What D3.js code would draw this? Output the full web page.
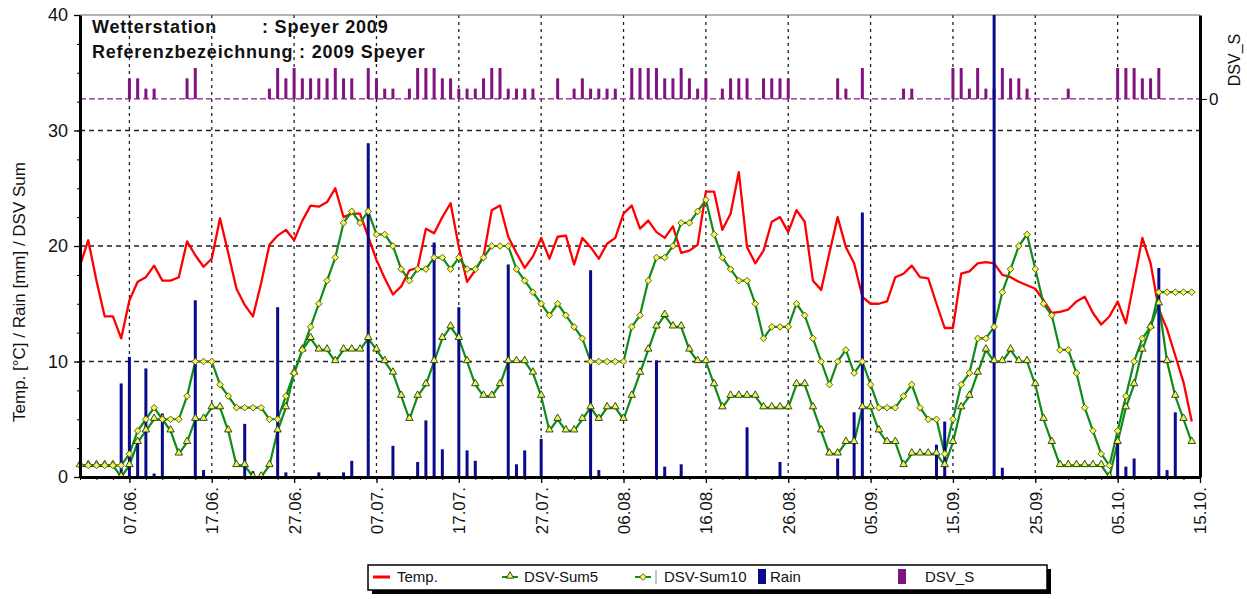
<!DOCTYPE html>
<html>
<head>
<meta charset="utf-8">
<script src="https://cdn.jsdelivr.net/npm/d3@7"></script>
<style>
  body { margin: 0; background: #fff; }
  svg { display: block; font-family: "Liberation Sans", Arial, sans-serif; }
</style>
</head>
<body>
<svg id="chart" width="1247" height="599"></svg>
<script>
'use strict';

// daily values, 01.06.2009 .. 14.10.2009
const temp = [
  18.3, 20.5, 17.0, 13.9, 13.9, 12.0, 15.3, 16.9, 17.3, 18.3,
  17.0, 17.0, 17.3, 20.4, 19.2, 18.2, 18.9, 22.4, 19.4, 16.3,
  14.9, 13.9, 16.8, 20.1, 20.9, 21.4, 20.5, 22.2, 23.5, 23.4,
  23.8, 25.0, 22.5, 22.8, 22.8, 20.8, 18.8, 17.2, 15.8, 16.5,
  17.9, 18.1, 21.5, 21.1, 22.5, 23.7, 19.9, 16.9, 17.9, 19.1,
  23.1, 23.5, 20.8, 19.4, 18.1, 19.1, 20.7, 18.9, 20.8, 20.9,
  18.4, 20.7, 19.9, 18.9, 20.2, 20.7, 22.8, 23.5, 21.5, 22.2,
  21.2, 20.7, 21.7, 19.4, 19.6, 20.1, 24.7, 24.7, 21.4, 22.8,
  26.4, 19.9, 18.5, 19.6, 22.1, 22.5, 21.2, 23.1, 22.1, 17.0,
  16.2, 19.4, 22.5, 19.9, 18.5, 15.6, 15.0, 15.0, 15.2, 17.3,
  17.6, 18.3, 17.3, 17.2, 15.0, 12.9, 12.9, 17.6, 17.8, 18.5,
  18.6, 18.5, 17.5, 17.3, 16.9, 16.6, 16.3, 15.3, 14.2, 14.3,
  14.5, 15.2, 15.6, 14.2, 13.2, 13.9, 15.2, 13.3, 17.0, 20.7,
  18.5, 14.5, 12.8, 10.5, 8.2, 4.8
];

const sum5 = [
  1, 1, 1, 1, 1, 0, 1, 3, 4, 5,
  5, 4, 2, 3, 5, 5, 6, 6, 4, 1,
  1, 0, 0, 1, 4, 6, 9, 11, 12, 11,
  11, 10, 11, 11, 11, 12, 11, 10, 9, 7,
  5, 7, 8, 10, 12, 13, 12, 10, 8, 7,
  7, 8, 10, 10, 10, 9, 7, 4, 5, 4,
  4, 5, 6, 5, 6, 6, 5, 7, 9, 11,
  13, 14, 13, 13, 11, 10, 10, 8, 6, 7,
  7, 7, 7, 6, 6, 6, 6, 8, 8, 6,
  4, 2, 2, 3, 3, 6, 6, 4, 3, 3,
  1, 2, 2, 2, 2, 1, 3, 6, 7, 9,
  11, 10, 10, 11, 10, 10, 8, 5, 3, 1,
  1, 1, 1, 1, 1, 0, 3, 6, 8, 11,
  13, 15, 10, 7, 5, 3
];

const sum10 = [
  1, 1, 1, 1, 1, 1, 2, 4, 5, 6,
  5, 5, 5, 7, 10, 10, 10, 8, 7, 6,
  6, 6, 6, 5, 5, 7, 9, 11, 13, 15,
  17, 19, 22, 23, 22, 23, 21, 21, 20, 18,
  17, 18, 18, 19, 19, 18, 19, 18, 18, 19,
  20, 20, 20, 18, 17, 16, 15, 14, 15, 14,
  13, 12, 10, 10, 10, 10, 10, 13, 14, 17,
  19, 19, 20, 22, 22, 23, 24, 21, 19, 18,
  17, 17, 15, 12, 13, 13, 13, 15, 14, 12,
  10, 8, 10, 11, 9, 10, 8, 6, 6, 6,
  7, 8, 6, 5, 5, 2, 5, 8, 9, 12,
  12, 13, 16, 18, 20, 21, 18, 15, 14, 11,
  11, 9, 6, 4, 2, 1, 4, 7, 10, 12,
  13, 16, 16, 16, 16, 16
];

// [day index, mm]
const rain = [
  [5, 8.1], [6, 10.4], [7, 3.2], [8, 9.4], [9, 0.3], [10, 5.5], [14, 15.3], [15, 0.6],
  [20, 4.6], [21, 0.5], [24, 14.7], [25, 0.4], [29, 0.4], [32, 0.4], [33, 1.4], [35, 28.9],
  [38, 2.7], [41, 1.3], [42, 4.9], [43, 20.3], [44, 2.4], [46, 14.7], [47, 2.3], [48, 1.4],
  [52, 18.4], [53, 1.1], [54, 2.3], [56, 3.3], [62, 17.9], [63, 0.6], [70, 10.1], [71, 0.9],
  [73, 1.1], [81, 4.3], [85, 1.3], [92, 1.6], [94, 5.6], [95, 22.9], [104, 2.8], [105, 4.8],
  [111, 40], [112, 0.8], [126, 3.3], [127, 0.9], [128, 1.6], [131, 18.1], [132, 0.6], [133, 5.6]
];

// [day index, DSV value]
const dsvS = [
  [6, 2], [7, 2], [8, 1], [9, 1], [13, 2], [14, 3], [23, 1], [24, 3], [25, 2], [26, 3],
  [27, 2], [28, 2], [29, 2], [30, 2], [31, 3], [32, 2], [33, 2], [35, 3], [36, 2], [37, 1],
  [38, 1], [40, 1], [41, 3], [42, 3], [43, 3], [44, 2], [45, 2], [46, 1], [47, 1], [48, 1],
  [49, 2], [50, 3], [51, 3], [52, 1], [53, 1], [54, 1], [55, 1], [58, 2], [60, 1], [61, 2],
  [62, 1], [63, 1], [64, 1], [65, 1], [67, 3], [68, 3], [69, 3], [70, 3], [71, 2], [72, 2],
  [73, 3], [74, 2], [75, 1], [76, 2], [78, 1], [79, 2], [80, 2], [81, 2], [83, 2], [84, 2],
  [85, 2], [86, 2], [92, 2], [93, 1], [95, 3], [100, 1], [101, 1], [106, 3], [107, 3], [108, 1],
  [109, 3], [110, 1], [111, 1], [112, 3], [113, 2], [114, 2], [115, 1], [120, 1], [126, 3], [127, 3],
  [128, 3], [129, 2], [130, 2], [131, 3]
];

const yTicks = [0, 10, 20, 30, 40];
const legendItems = ['Temp.', 'DSV-Sum5', 'DSV-Sum10', 'Rain', 'DSV_S'];

const margin = { top: 15, right: 47, bottom: 122, left: 80 };
const width = 1247, height = 599;
const plotW = width - margin.left - margin.right;
const plotH = height - margin.top - margin.bottom;

const start = new Date(Date.UTC(2009, 5, 1));
const end = new Date(Date.UTC(2009, 9, 15));
const days = d3.utcDay.range(start, d3.utcDay.offset(start, temp.length));
const dayAt = i => d3.utcDay.offset(start, i);

const x = d3.scaleUtc().domain([start, end]).range([0, plotW]);
const y = d3.scaleLinear().domain([0, 40]).range([plotH, 0]);
const yS = d3.scaleLinear().domain([-36.7, 8.15]).range([plotH, 0]);

const svg = d3.select('#chart');
const g = svg.append('g').attr('transform', `translate(${margin.left},${margin.top})`);

const majorDates = d3.utcDay.range(dayAt(6), d3.utcDay.offset(end, 1), 10);
const minorDates = d3.utcDay.range(start, d3.utcDay.offset(end, 1), 2);

// grid
g.append('g')
  .selectAll('line')
  .data([10, 20, 30])
  .join('line')
    .attr('x1', 0).attr('x2', plotW)
    .attr('y1', d => y(d)).attr('y2', d => y(d))
    .attr('stroke', '#222').attr('stroke-width', 1.3)
    .attr('stroke-dasharray', '5,4');

g.append('g')
  .selectAll('line')
  .data(majorDates.filter(d => +d < +end))
  .join('line')
    .attr('x1', d => x(d)).attr('x2', d => x(d))
    .attr('y1', 0).attr('y2', plotH)
    .attr('stroke', '#222').attr('stroke-width', 1.3)
    .attr('stroke-dasharray', '3,4');

// top border
g.append('line')
  .attr('x1', 0).attr('x2', plotW).attr('y1', 0).attr('y2', 0)
  .attr('stroke', '#666').attr('stroke-width', 1.2);

// DSV_S baseline + bars (right axis)
g.append('line')
  .attr('x1', 0).attr('x2', plotW)
  .attr('y1', yS(0)).attr('y2', yS(0))
  .attr('stroke', '#8b1a8b').attr('stroke-width', 1.3)
  .attr('stroke-dasharray', '6,3');

g.append('g')
  .selectAll('rect')
  .data(dsvS)
  .join('rect')
    .attr('x', d => x(dayAt(d[0])) - 1.5)
    .attr('y', d => yS(d[1]))
    .attr('width', 3)
    .attr('height', d => yS(0) - yS(d[1]))
    .attr('fill', '#80137f');

// temperature
const line = d3.line().x((d, i) => x(days[i])).y(d => y(d));

g.append('path')
  .datum(temp)
  .attr('fill', 'none')
  .attr('stroke', '#ff0000')
  .attr('stroke-width', 2.3)
  .attr('stroke-linejoin', 'round')
  .attr('d', line);

// DSV sums
[sum10, sum5].forEach(s => {
  g.append('path')
    .datum(s)
    .attr('fill', 'none')
    .attr('stroke', '#0d8c1a')
    .attr('stroke-width', 2.2)
    .attr('stroke-linejoin', 'round')
    .attr('d', line);
});

// rain
g.append('g')
  .selectAll('rect')
  .data(rain)
  .join('rect')
    .attr('x', d => x(dayAt(d[0])) - 1.5)
    .attr('y', d => y(Math.min(d[1], 40)))
    .attr('width', 3)
    .attr('height', d => y(0) - y(Math.min(d[1], 40)))
    .attr('fill', '#0a0a8c');

// markers
const tri = d3.symbol(d3.symbolTriangle, 24);
const dia = d3.symbol(d3.symbolSquare, 22);

g.append('g')
  .selectAll('path')
  .data(sum5)
  .join('path')
    .attr('transform', (d, i) => `translate(${x(days[i])},${y(d) - 1})`)
    .attr('d', tri)
    .attr('fill', '#f2f25a')
    .attr('stroke', '#1a3a10')
    .attr('stroke-width', 0.9);

g.append('g')
  .selectAll('path')
  .data(sum10)
  .join('path')
    .attr('transform', (d, i) => `translate(${x(days[i])},${y(d)}) rotate(45)`)
    .attr('d', dia)
    .attr('fill', '#f5f55a')
    .attr('stroke', '#5a5a10')
    .attr('stroke-width', 0.9);

// axes
const axisFont = g => g.selectAll('text')
  .attr('font-family', '"Liberation Sans", Arial, sans-serif')
  .attr('fill', '#111');

const yAxis = g.append('g')
  .call(d3.axisLeft(y).tickValues(yTicks).tickSize(6).tickSizeOuter(0).tickPadding(6))
  .call(axisFont)
  .attr('font-size', 18);
yAxis.select('.domain').attr('stroke', '#000').attr('stroke-width', 3);
yAxis.selectAll('.tick line').attr('stroke', '#000').attr('stroke-width', 1.3);

g.append('g')
  .call(d3.axisLeft(y).tickValues(d3.range(0, 40.1, 2.5)).tickSize(3).tickFormat(''))
  .call(a => a.select('.domain').remove())
  .selectAll('line').attr('stroke', '#000');

const xAxis = g.append('g')
  .attr('transform', `translate(0,${plotH})`)
  .call(d3.axisBottom(x).tickValues(majorDates).tickSize(6).tickSizeOuter(0)
    .tickFormat(d3.utcFormat('%d.%m.')))
  .attr('font-size', 17);
xAxis.call(axisFont);
xAxis.select('.domain').attr('stroke', '#000').attr('stroke-width', 3);
xAxis.selectAll('.tick line').attr('stroke', '#000').attr('stroke-width', 1.3);
xAxis.selectAll('text')
  .attr('transform', 'rotate(-90)')
  .attr('x', -10).attr('y', 0).attr('dy', '0.35em')
  .style('text-anchor', 'end');

g.append('g')
  .attr('transform', `translate(0,${plotH})`)
  .call(d3.axisBottom(x).tickValues(minorDates).tickSize(3).tickFormat(''))
  .call(a => a.select('.domain').remove())
  .selectAll('line').attr('stroke', '#000');

const rAxis = g.append('g')
  .attr('transform', `translate(${plotW},0)`)
  .call(d3.axisRight(yS).tickValues([0]).tickSize(7).tickSizeOuter(0).tickPadding(2))
  .attr('font-size', 17);
rAxis.call(axisFont);
rAxis.select('.domain').attr('stroke', '#000').attr('stroke-width', 3);

// axis titles
svg.append('text')
  .attr('transform', 'translate(25,292) rotate(-90)')
  .attr('text-anchor', 'middle')
  .attr('font-size', 17)
  .attr('fill', '#111')
  .text('Temp. [°C] / Rain [mm] / DSV Sum');

svg.append('text')
  .attr('transform', 'translate(1240,60) rotate(-90)')
  .attr('text-anchor', 'middle')
  .attr('font-size', 16)
  .attr('fill', '#111')
  .text('DSV_S');

// station text
const info = g.append('g')
  .attr('font-weight', 'bold').attr('font-size', 18)
  .attr('letter-spacing', 0.8).attr('fill', '#111');
info.append('text').attr('x', 12).attr('y', 18).text('Wetterstation');
info.append('text').attr('x', 182).attr('y', 18).text(': Speyer 2009');
info.append('text').attr('x', 12).attr('y', 43).text('Referenzbezeichnung : 2009 Speyer');

// legend
const lg = svg.append('g').attr('font-size', 15);
lg.append('rect').attr('x', 372).attr('y', 569).attr('width', 679).attr('height', 25).attr('fill', '#000');
lg.append('rect').attr('x', 368).attr('y', 565).attr('width', 679).attr('height', 25)
  .attr('fill', '#fff').attr('stroke', '#000').attr('stroke-width', 1.5);

const ly = 577;
lg.append('line').attr('x1', 373).attr('x2', 390).attr('y1', ly).attr('y2', ly)
  .attr('stroke', '#ff0000').attr('stroke-width', 3);
lg.append('line').attr('x1', 502).attr('x2', 518).attr('y1', ly).attr('y2', ly)
  .attr('stroke', '#0d8c1a').attr('stroke-width', 2);
lg.append('path').attr('transform', `translate(510,${ly - 1})`).attr('d', tri)
  .attr('fill', '#f2f25a').attr('stroke', '#1a3a10').attr('stroke-width', 0.9);
lg.append('line').attr('x1', 635).attr('x2', 651).attr('y1', ly).attr('y2', ly)
  .attr('stroke', '#0d8c1a').attr('stroke-width', 2);
lg.append('path').attr('transform', `translate(643,${ly}) rotate(45)`).attr('d', dia)
  .attr('fill', '#f5f55a').attr('stroke', '#5a5a10').attr('stroke-width', 0.9);
lg.append('line').attr('x1', 656).attr('x2', 656).attr('y1', ly - 7).attr('y2', ly + 7)
  .attr('stroke', '#888').attr('stroke-width', 1);
lg.append('rect').attr('x', 758).attr('y', ly - 8).attr('width', 8).attr('height', 15).attr('fill', '#0a0a8c');
lg.append('rect').attr('x', 898).attr('y', ly - 8).attr('width', 8).attr('height', 15).attr('fill', '#80137f');

const legendX = [397, 524, 664, 770, 925];
lg.selectAll('text.item')
  .data(legendItems)
  .join('text')
    .attr('class', 'item')
    .attr('x', (d, i) => legendX[i])
    .attr('y', ly + 5)
    .attr('fill', '#111')
    .text(d => d);
</script>
</body>
</html>
